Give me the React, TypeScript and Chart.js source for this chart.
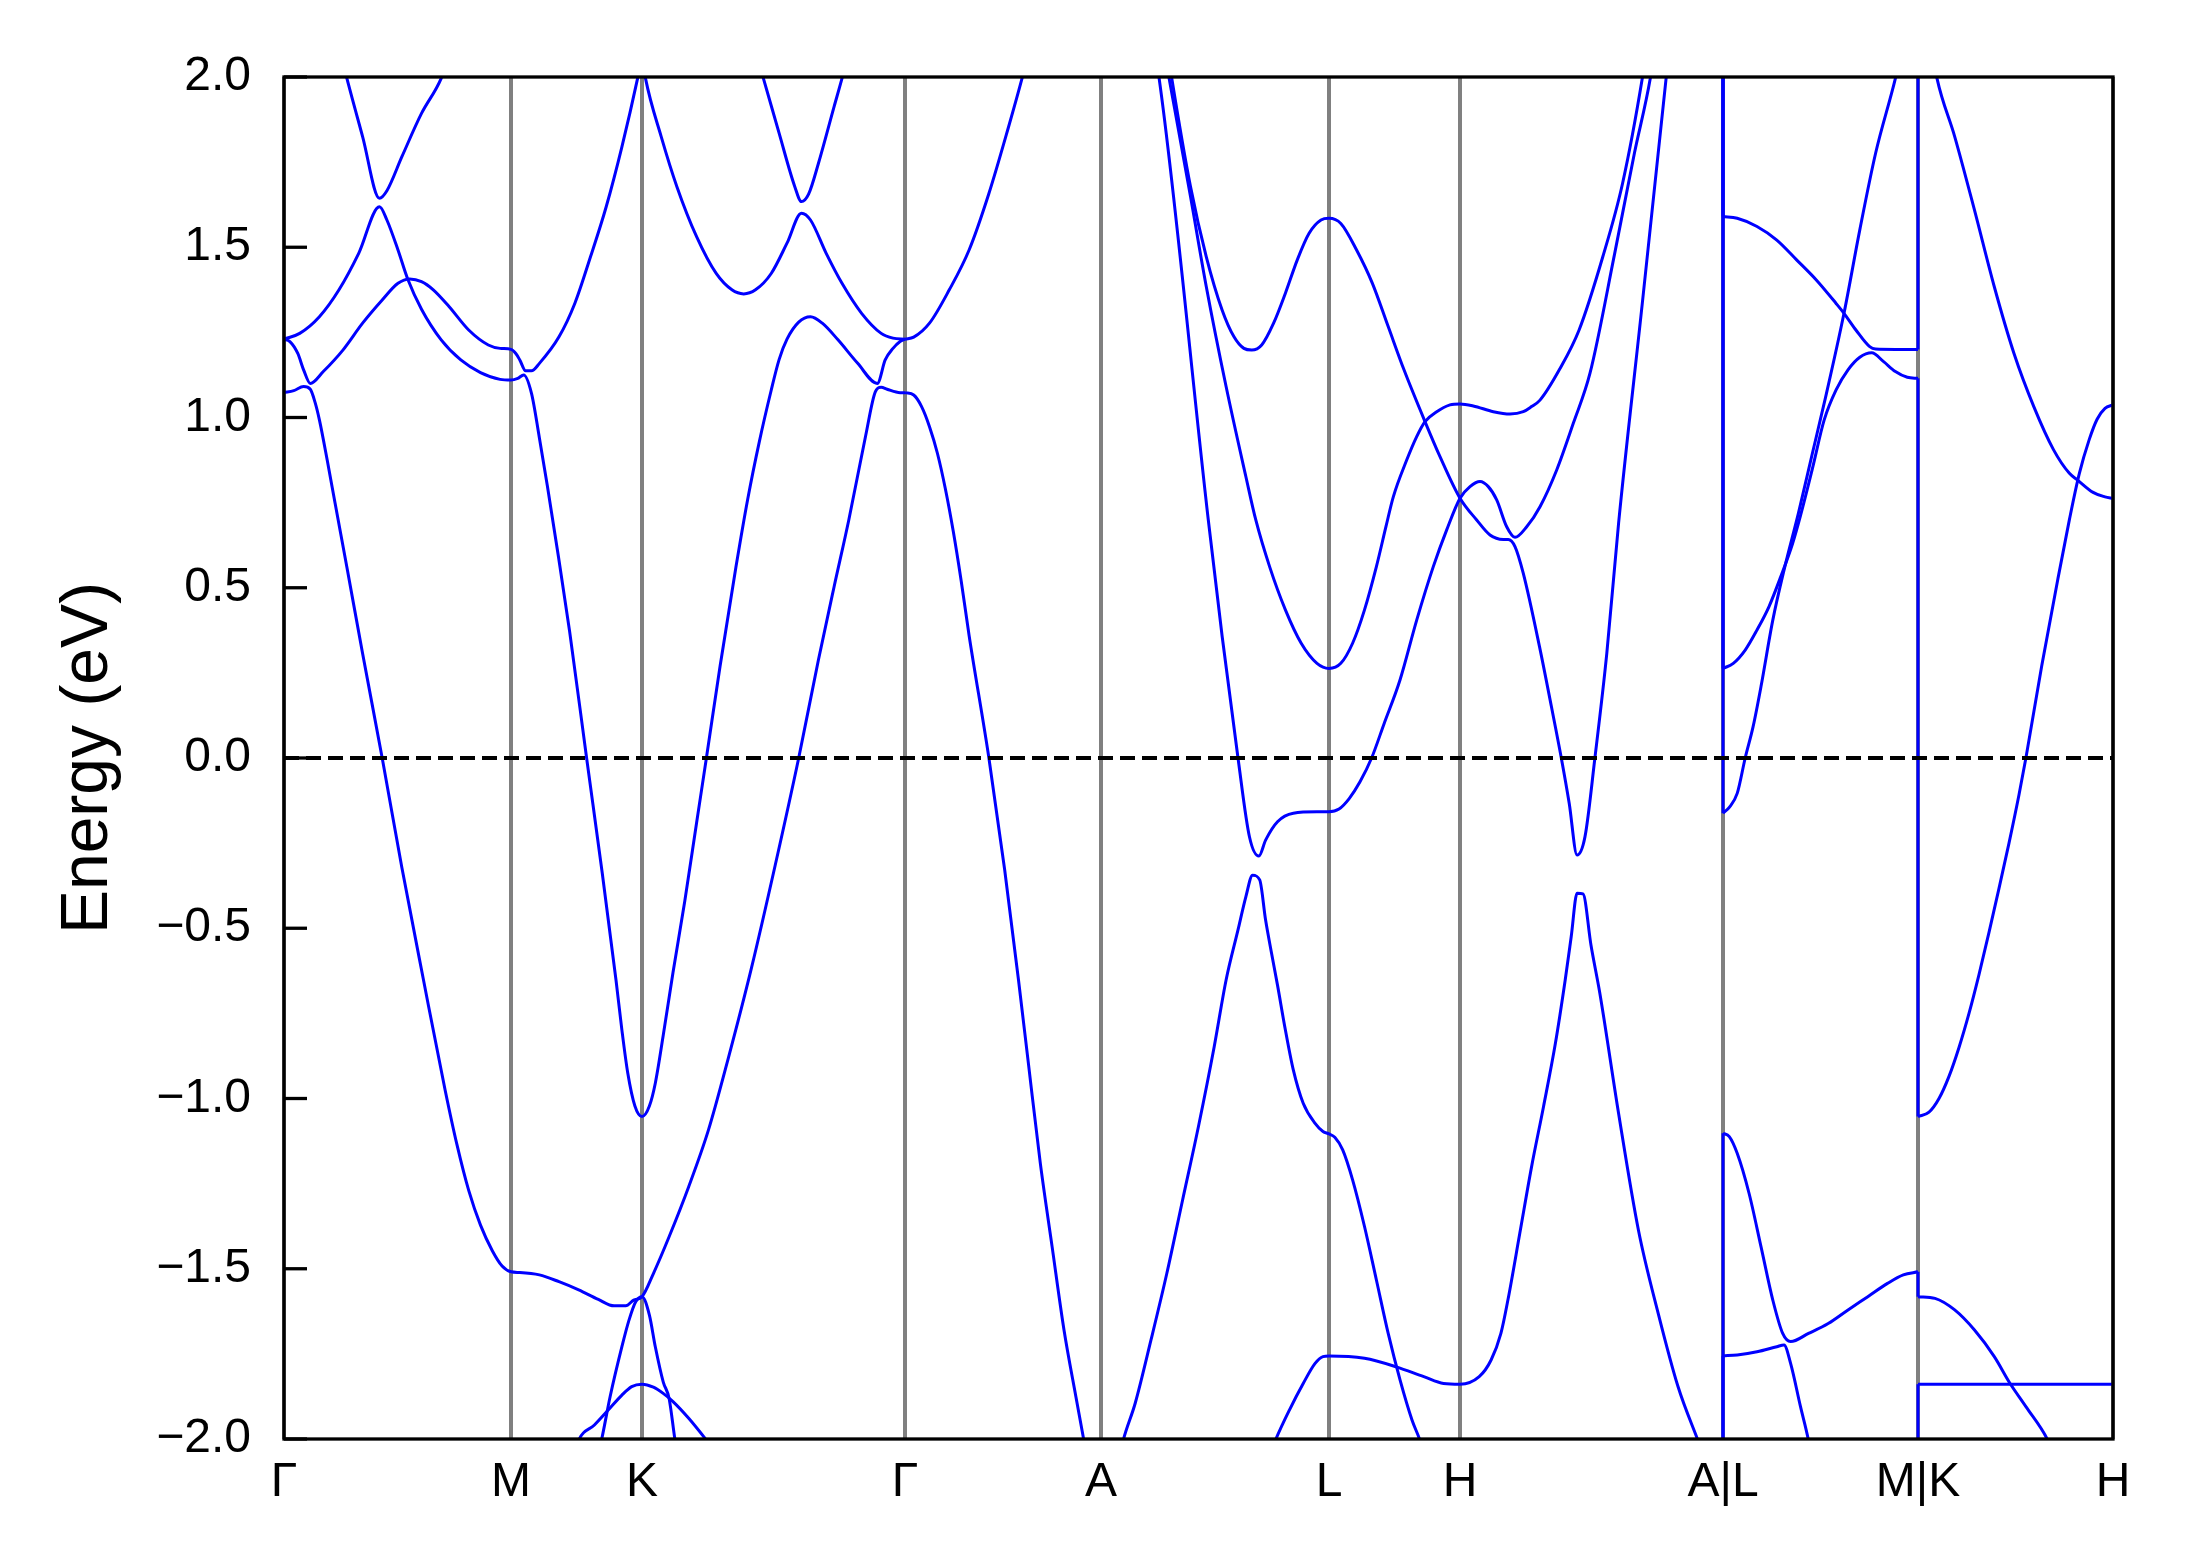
import React, { useEffect, useRef } from "react";
import { Chart, registerables } from "chart.js";

Chart.register(...registerables);

const FONT = "'Liberation Sans', Arial, Helvetica, sans-serif";

// ---- high-symmetry k-path (k-distance, arbitrary units) ----
const kTicks = [0, 0.227, 0.358, 0.621, 0.817, 1.045, 1.176, 1.439, 1.634, 1.829];
const kLabels = ["Γ", "M", "K", "Γ", "A", "L", "H", "A|L", "M|K", "H"];
const energyMin = -2;
const energyMax = 2;
const energyStep = 0.5;
const fermiLevel = 0;

type Pt = [number, number];

// ---- bands: [k, E (eV)] ----
// Γ–M–K–Γ
const bandGMUpper: Pt[] = [[0.060, 2.03], [0.0629, 1.996], [0.0786, 1.825], [0.0955, 1.644], [0.1029, 1.666], [0.1179, 1.766], [0.1375, 1.893], [0.1572, 1.996], [0.160, 2.02]];
const bandKGUpper: Pt[] = [[0.476, 2.03], [0.4794, 1.996], [0.4951, 1.835], [0.5108, 1.678], [0.5175, 1.634], [0.5246, 1.656], [0.5344, 1.746], [0.5501, 1.913], [0.558, 1.996], [0.561, 2.03]];
const bandGMK1: Pt[] = [
  [0, 1.230], [0.0157, 1.247], [0.0354, 1.296], [0.055, 1.375], [0.0747, 1.482], [0.0955, 1.619], [0.1029, 1.580], [0.114, 1.492],
  [0.1238, 1.406], [0.1375, 1.318], [0.1572, 1.228], [0.1768, 1.169], [0.1965, 1.132], [0.2161, 1.112], [0.227, 1.110], [0.2338, 1.115],
  [0.2397, 1.125], [0.2475, 1.071], [0.2554, 0.94], [0.2633, 0.80], [0.2745, 0.59], [0.2857, 0.37], [0.3026, 0.0], [0.3183, -0.339],
  [0.332, -0.652], [0.3379, -0.799], [0.3438, -0.926], [0.3509, -1.022], [0.358, -1.053], [0.3654, -1.022], [0.3713, -0.955], [0.3792, -0.815],
  [0.389, -0.63], [0.4008, -0.42], [0.4126, -0.19], [0.4224, 0.0], [0.4361, 0.27], [0.4519, 0.56], [0.4637, 0.76], [0.4754, 0.93],
  [0.4872, 1.08], [0.4951, 1.17], [0.503, 1.23], [0.5147, 1.28], [0.5265, 1.296], [0.5383, 1.277], [0.554, 1.228], [0.5737, 1.159],
  [0.5933, 1.100], [0.6012, 1.169], [0.609, 1.203], [0.6161, 1.223], [0.621, 1.230],
];
const bandGMK2: Pt[] = [
  [0, 1.230], [0.0059, 1.223], [0.0138, 1.188], [0.0196, 1.140], [0.0263, 1.100], [0.0393, 1.135], [0.0589, 1.198], [0.0786, 1.277],
  [0.0982, 1.345], [0.114, 1.394], [0.1257, 1.407], [0.1375, 1.399], [0.1493, 1.375], [0.165, 1.326], [0.1847, 1.257], [0.2043, 1.213],
  [0.2161, 1.203], [0.227, 1.200], [0.2318, 1.188], [0.2358, 1.169], [0.2417, 1.137], [0.2475, 1.137], [0.2554, 1.159], [0.275, 1.237],
  [0.2908, 1.335], [0.3065, 1.472], [0.3222, 1.619], [0.3379, 1.795], [0.3536, 1.996], [0.358, 2.06], [0.3615, 1.996], [0.3772, 1.825],
  [0.3929, 1.678], [0.4126, 1.531], [0.4322, 1.423], [0.4479, 1.375], [0.4597, 1.363], [0.4715, 1.375], [0.4872, 1.423], [0.503, 1.512],
  [0.5175, 1.600], [0.5265, 1.580], [0.5422, 1.482], [0.558, 1.394], [0.5776, 1.306], [0.5972, 1.247], [0.609, 1.233], [0.621, 1.230],
];
const bandGMK3: Pt[] = [
  [0, 1.073], [0.0098, 1.079], [0.0196, 1.091], [0.0263, 1.083], [0.031, 1.045], [0.0354, 0.993], [0.0432, 0.875], [0.0511, 0.748],
  [0.0629, 0.560], [0.0786, 0.307], [0.0982, 0.0], [0.1179, -0.322], [0.1395, -0.652], [0.1611, -0.975], [0.1729, -1.135],
  [0.1847, -1.270], [0.1965, -1.372], [0.2083, -1.447], [0.2181, -1.492], [0.227, -1.509], [0.2358, -1.511], [0.2554, -1.518], [0.275, -1.538],
  [0.2947, -1.562], [0.3143, -1.590], [0.3301, -1.609], [0.3418, -1.609], [0.3497, -1.592], [0.358, -1.582], [0.3694, -1.514], [0.3851, -1.406],
  [0.4047, -1.259], [0.4244, -1.093], [0.444, -0.885], [0.4676, -0.615], [0.4912, -0.315], [0.5147, 0.0], [0.5344, 0.288], [0.5501, 0.503],
  [0.5648, 0.699], [0.5815, 0.944], [0.5914, 1.076], [0.5972, 1.089], [0.6031, 1.083], [0.6161, 1.073], [0.621, 1.073],
];
const bandKLow1: Pt[] = [[0.316, -2.02], [0.3175, -2.003], [0.3261, -1.876], [0.3379, -1.729], [0.345, -1.651], [0.3517, -1.597], [0.358, -1.582], [0.3654, -1.636], [0.3713, -1.729], [0.3792, -1.832], [0.3851, -1.881], [0.391, -2.003], [0.392, -2.02]];
const bandKLow2: Pt[] = [[0.292, -2.03], [0.2947, -2.003], [0.3104, -1.959], [0.3242, -1.915], [0.3379, -1.871], [0.3477, -1.846], [0.358, -1.839], [0.3694, -1.848], [0.3792, -1.866], [0.389, -1.890], [0.4047, -1.939], [0.4224, -2.003], [0.425, -2.013]];

// Γ–A–L–H–A
const bandGAUp: Pt[] = [[0.621, 1.230], [0.6297, 1.236], [0.6455, 1.277], [0.6653, 1.375], [0.6851, 1.492], [0.7049, 1.658], [0.7246, 1.854], [0.7385, 2.001], [0.741, 2.03]];
const bandGALow: Pt[] = [
  [0.621, 1.073], [0.6297, 1.066], [0.6376, 1.032], [0.6455, 0.973], [0.6534, 0.895], [0.6614, 0.79], [0.6693, 0.665], [0.6772, 0.52],
  [0.6851, 0.36], [0.7049, 0.0], [0.7207, -0.329], [0.7345, -0.652], [0.7444, -0.897], [0.7563, -1.190], [0.7681, -1.435], [0.78, -1.680], [0.7919, -1.876],
  [0.7998, -2.003], [0.817, -2.3], [0.8393, -2.003], [0.8512, -1.895], [0.867, -1.709], [0.8828, -1.514], [0.8986, -1.298], [0.9144, -1.083],
  [0.9302, -0.848], [0.9421, -0.652], [0.954, -0.505], [0.9619, -0.407], [0.9686, -0.344], [0.9757, -0.358], [0.9816, -0.476], [0.9876, -0.574],
  [0.9935, -0.667], [1.0014, -0.799], [1.0093, -0.916], [1.0192, -1.014], [1.0311, -1.073], [1.039, -1.097], [1.045, -1.104], [1.0508, -1.114],
  [1.0587, -1.151], [1.0686, -1.239], [1.0805, -1.376], [1.0924, -1.533], [1.1042, -1.690], [1.1161, -1.827], [1.128, -1.944], [1.1359, -2.003], [1.14, -2.04],
];
const bandALH1: Pt[] = [
  [0.886, 2.03], [0.8875, 2.001], [0.9065, 1.678], [0.9223, 1.472], [0.9381, 1.316], [0.95, 1.237], [0.9599, 1.203], [0.9678, 1.198],
  [0.9777, 1.213], [0.9896, 1.277], [1.0014, 1.365], [1.0133, 1.463], [1.0251, 1.541], [1.037, 1.580], [1.045, 1.585], [1.0568, 1.570],
  [1.0726, 1.492], [1.0884, 1.394], [1.1042, 1.267], [1.12, 1.140], [1.141, 0.988], [1.156, 0.885], [1.176, 0.763], [1.1927, 0.699],
  [1.206, 0.655], [1.2193, 0.642], [1.2243, 0.642], [1.231, 0.621], [1.2393, 0.542], [1.2555, 0.327], [1.2674, 0.151], [1.2773, 0.0],
  [1.2852, -0.133], [1.2931, -0.285], [1.301, -0.231], [1.3109, 0.0], [1.3228, 0.307], [1.3346, 0.690], [1.3583, 1.335], [1.3821, 1.996], [1.384, 2.05],
];
const bandALH2: Pt[] = [
  [0.883, 2.03], [0.8848, 2.001], [0.9065, 1.649], [0.9223, 1.384], [0.9421, 1.091], [0.9619, 0.826], [0.9718, 0.699], [0.9856, 0.562],
  [1.0014, 0.435], [1.0172, 0.337], [1.033, 0.278], [1.045, 0.263], [1.0568, 0.278], [1.0686, 0.337], [1.0805, 0.435], [1.0924, 0.562],
  [1.102, 0.680], [1.1093, 0.767], [1.1227, 0.875], [1.1327, 0.944], [1.141, 0.988], [1.1527, 1.017], [1.166, 1.037], [1.176, 1.040],
  [1.1893, 1.034], [1.2093, 1.017], [1.226, 1.010], [1.2393, 1.017], [1.2476, 1.032], [1.256, 1.051], [1.2753, 1.140], [1.2951, 1.257],
  [1.3188, 1.472], [1.3386, 1.688], [1.3583, 1.996], [1.36, 2.03],
];
const bandALH3: Pt[] = [
  [0.873, 2.03], [0.8749, 2.001], [0.9243, 0.699], [0.9382, 0.356], [0.954, 0.0], [0.9655, -0.232], [0.9749, -0.288], [0.9816, -0.241],
  [0.9935, -0.187], [1.0093, -0.162], [1.033, -0.158], [1.045, -0.158], [1.055, -0.150], [1.065, -0.120], [1.076, -0.07], [1.0876, 0.0],
  [1.1, 0.1], [1.116, 0.229], [1.1327, 0.405], [1.1493, 0.562], [1.1627, 0.670], [1.176, 0.763], [1.186, 0.797], [1.196, 0.812],
  [1.2043, 0.797], [1.2127, 0.758], [1.2227, 0.679], [1.231, 0.648], [1.2427, 0.679], [1.256, 0.738], [1.2727, 0.846], [1.2893, 0.983],
  [1.306, 1.130], [1.3307, 1.482], [1.3504, 1.776], [1.3663, 1.996], [1.368, 2.03],
];
const bandALH4: Pt[] = [
  [0.988, -2.03], [0.9915, -2.003], [1.0054, -1.915], [1.0192, -1.837], [1.0311, -1.778], [1.039, -1.758], [1.045, -1.756], [1.0805, -1.763],
  [1.1121, -1.788], [1.1398, -1.817], [1.1596, -1.837], [1.176, -1.839], [1.1952, -1.817], [1.2071, -1.768], [1.2169, -1.690], [1.2239, -1.592],
  [1.2358, -1.396], [1.2476, -1.200], [1.2595, -1.024], [1.2714, -0.838], [1.2812, -0.652], [1.2872, -0.525], [1.2931, -0.397], [1.299, -0.399],
  [1.307, -0.55], [1.3158, -0.69], [1.3346, -1.044], [1.3544, -1.386], [1.3742, -1.631], [1.394, -1.846], [1.4138, -2.003], [1.416, -2.02],
];

// L–M
const bandLM1: Pt[] = [[1.439, 1.590], [1.4532, 1.585], [1.473, 1.561], [1.4928, 1.521], [1.5126, 1.463], [1.5323, 1.404], [1.5521, 1.335], [1.56, 1.306], [1.5719, 1.257], [1.5857, 1.208], [1.5916, 1.201], [1.6114, 1.200], [1.634, 1.200]];
const bandLM2: Pt[] = [[1.439, 0.263], [1.4493, 0.278], [1.4612, 0.317], [1.473, 0.376], [1.4849, 0.444], [1.4967, 0.532], [1.5086, 0.630], [1.5165, 0.712], [1.5284, 0.85], [1.5402, 0.993], [1.5521, 1.081], [1.564, 1.140], [1.5758, 1.177], [1.5877, 1.190], [1.5996, 1.164], [1.6114, 1.135], [1.6233, 1.118], [1.634, 1.115]];
const bandLM3: Pt[] = [[1.439, -0.162], [1.4453, -0.145], [1.4532, -0.104], [1.4612, 0.0], [1.4691, 0.092], [1.477, 0.210], [1.4888, 0.405], [1.5007, 0.56], [1.5145, 0.72], [1.5284, 0.895], [1.5402, 1.042], [1.56, 1.306], [1.5758, 1.551], [1.5916, 1.776], [1.6114, 1.996], [1.614, 2.03]];
const bandLM4: Pt[] = [[1.439, -1.102], [1.4453, -1.112], [1.4532, -1.161], [1.4651, -1.279], [1.477, -1.435], [1.4888, -1.592], [1.4987, -1.690], [1.5066, -1.714], [1.5245, -1.690], [1.5442, -1.661], [1.564, -1.621], [1.5838, -1.582], [1.6035, -1.543], [1.6193, -1.518], [1.634, -1.509]];
const bandLM5: Pt[] = [[1.439, -1.756], [1.4532, -1.753], [1.473, -1.744], [1.4928, -1.729], [1.5, -1.724], [1.5066, -1.778], [1.5165, -1.905], [1.5244, -2.003], [1.526, -2.03]];

// K–H
const bandKH1: Pt[] = [[1.651, 2.03], [1.653, 1.996], [1.6707, 1.825], [1.6905, 1.609], [1.7103, 1.384], [1.73, 1.188], [1.7498, 1.032], [1.7696, 0.905], [1.7854, 0.836], [1.7933, 0.817], [1.8091, 0.780], [1.821, 0.767], [1.829, 0.762]];
const bandKH2: Pt[] = [
  [1.634, -1.053], [1.645, -1.040], [1.655, -1.000], [1.665, -0.935], [1.675, -0.850], [1.685, -0.750], [1.695, -0.636], [1.705, -0.512],
  [1.715, -0.383], [1.725, -0.250], [1.735, -0.108], [1.7419, 0.0], [1.7577, 0.27], [1.7735, 0.52], [1.7854, 0.700], [1.7953, 0.835],
  [1.8052, 0.935], [1.8131, 0.995], [1.821, 1.027], [1.829, 1.037],
];
const bandKH3: Pt[] = [[1.634, -1.582], [1.651, -1.587], [1.6707, -1.621], [1.6905, -1.680], [1.7103, -1.758], [1.7261, -1.837], [1.7419, -1.905], [1.7637, -2.003], [1.766, -2.02]];
const bandKH4: Pt[] = [[1.634, -1.839], [1.829, -1.839]];

// path discontinuities: [E before jump, E after jump]
const jumpAL: Pt[] = [[2.5, 1.590], [2.5, 0.263], [2.5, -0.162], [-2.5, -1.102], [-2.5, -1.756]];
const jumpMK: Pt[] = [[1.200, 2.5], [1.115, -1.053], [-1.509, -1.582], [-2.5, -1.839]];

const allBands: Pt[][] = [
  bandGMUpper, bandKGUpper, bandGMK1, bandGMK2, bandGMK3, bandKLow1, bandKLow2,
  bandGAUp, bandGALow, bandALH1, bandALH2, bandALH3, bandALH4,
  bandLM1, bandLM2, bandLM3, bandLM4, bandLM5,
  bandKH1, bandKH2, bandKH3, bandKH4,
];

const BLUE = "#0000ff";
const TICK_LEN = 23;

const fmtEnergy = (v: number) => (v < 0 ? "\u2212" : "") + Math.abs(v).toFixed(1);

const framePlugin = {
  id: "frameAndTicks",
  afterDatasetsDraw(chart: any) {
    const { ctx, chartArea, scales } = chart;
    const { left, top, right, bottom } = chartArea;
    const y = scales.y;
    ctx.save();
    ctx.strokeStyle = "#000";
    ctx.lineWidth = 3.3;
    ctx.lineCap = "butt";
    y.ticks.forEach((t: any) => {
      const py = y.getPixelForValue(t.value);
      ctx.beginPath();
      ctx.moveTo(left, py);
      ctx.lineTo(left + TICK_LEN, py);
      ctx.stroke();
    });
    ctx.strokeRect(left, top, right - left, bottom - top);
    ctx.restore();
  },
};

export default function App() {
  const ref = useRef<HTMLCanvasElement | null>(null);

  useEffect(() => {
    if (!ref.current) return;
    const datasets: any[] = [];
    datasets.push({
      data: [{ x: kTicks[0], y: fermiLevel }, { x: kTicks[kTicks.length - 1], y: fermiLevel }],
      borderColor: "#000",
      borderWidth: 4,
      borderDash: [15, 7],
      borderCapStyle: "butt",
      pointRadius: 0,
      tension: 0,
      clip: 0,
      order: -1,
    });
    allBands.forEach((b) =>
      datasets.push({
        data: b.map(([x, y]) => ({ x, y })),
        borderColor: BLUE,
        borderWidth: 3,
        borderJoinStyle: "round",
        pointRadius: 0,
        cubicInterpolationMode: "monotone",
        clip: 0,
        order: 1,
      })
    );
    const addJumps = (k: number, pairs: Pt[]) =>
      pairs.forEach(([e1, e2]) =>
        datasets.push({
          data: [{ x: k, y: e1 }, { x: k, y: e2 }],
          borderColor: BLUE,
          borderWidth: 3,
          pointRadius: 0,
          tension: 0,
          clip: 0,
          order: 1,
        })
      );
    addJumps(kTicks[7], jumpAL);
    addJumps(kTicks[8], jumpMK);

    const chart = new Chart(ref.current, {
      type: "line",
      data: { datasets },
      options: {
        responsive: false,
        maintainAspectRatio: false,
        devicePixelRatio: 1,
        animation: false,
        events: [],
        layout: { padding: { left: 0, top: 77, right: 78, bottom: 0 } },
        plugins: { legend: { display: false }, tooltip: { enabled: false } },
        scales: {
          x: {
            type: "linear",
            position: "bottom",
            min: kTicks[0],
            max: kTicks[kTicks.length - 1],
            afterBuildTicks: (s: any) => {
              s.ticks = kTicks.map((v) => ({ value: v }));
            },
            afterFit: (s: any) => {
              s.height = 128;
            },
            grid: { display: true, drawOnChartArea: true, drawTicks: false, color: "#808080", lineWidth: 4 },
            border: { display: false },
            ticks: {
              autoSkip: false,
              maxRotation: 0,
              minRotation: 0,
              padding: 15,
              color: "#000",
              font: { family: FONT, size: 48 },
              callback: (_v: any, i: number) => kLabels[i],
            },
          },
          y: {
            type: "linear",
            position: "left",
            min: energyMin,
            max: energyMax,
            afterFit: (s: any) => {
              s.width = 284;
            },
            grid: { display: false, drawTicks: false },
            border: { display: false },
            ticks: {
              stepSize: energyStep,
              padding: 33,
              color: "#000",
              font: { family: FONT, size: 48 },
              callback: (v: any) => fmtEnergy(Number(v)),
            },
            title: {
              display: true,
              text: "Energy (eV)",
              color: "#000",
              font: { family: FONT, size: 66 },
              padding: { top: 49, bottom: 0 },
            },
          },
        },
      },
      plugins: [framePlugin],
    } as any);
    return () => chart.destroy();
  }, []);

  return (
    <div style={{ position: "absolute", left: 0, top: 0, width: 2191, height: 1567, background: "#fff" }}>
      <canvas ref={ref} width={2191} height={1567} style={{ display: "block", width: 2191, height: 1567 }} />
    </div>
  );
}
